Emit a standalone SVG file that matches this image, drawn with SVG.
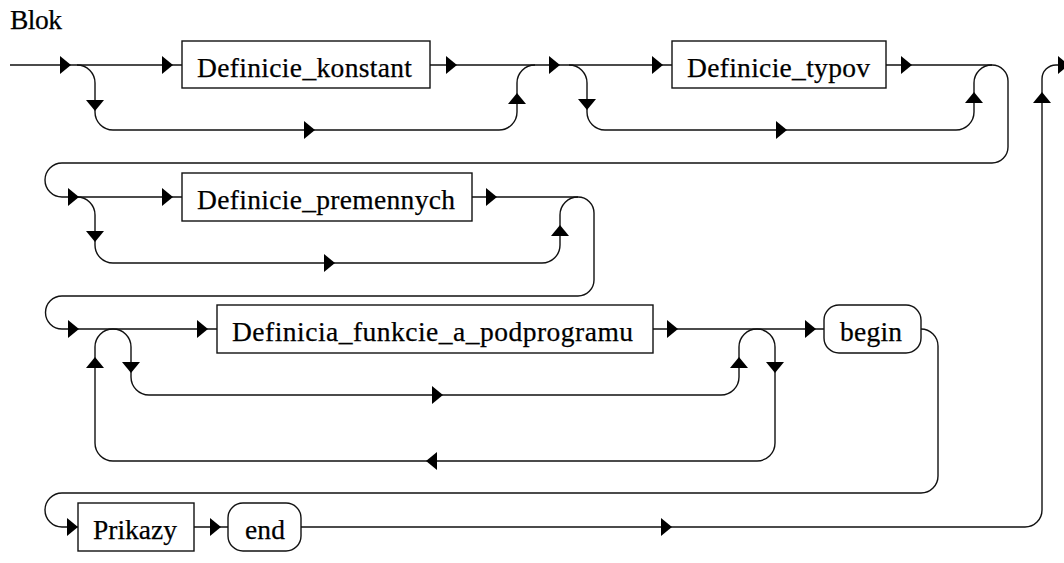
<svg xmlns="http://www.w3.org/2000/svg" xmlns:xlink="http://www.w3.org/1999/xlink" width="1064" height="563" viewBox="0 0 1064 563">
<style>
.ln{fill:none;stroke:#111;stroke-width:1.4}
.bx{fill:#fff;stroke:#111;stroke-width:1.4}
text{font-family:'Liberation Serif','Times New Roman','DejaVu Serif',serif;font-size:27.5px;fill:#000;stroke:#000;stroke-width:0.25}
.ar{fill:#000}
</style>
<defs>
<path id="a" class="ar" d="M0,0 L-11,-9 L-11,9 Z"/>
</defs>
<rect width="1064" height="563" fill="#fff"/>
<text x="10" y="29" textLength="52" lengthAdjust="spacing">Blok</text>
<g id="connectors">
<path class="ln" d="M10,65 H182 M430,65 H672 M886,65 H992"/>
<path class="ln" d="M77,65 A18,18 0 0 1 95,83 V112 A18,18 0 0 0 113,130 H499 A18,18 0 0 0 517,112 V83 A18,18 0 0 1 535,65"/>
<path class="ln" d="M569,65 A18,18 0 0 1 587,83 V112 A18,18 0 0 0 605,130 H956 A18,18 0 0 0 974,112 V83 A18,18 0 0 1 992,65"/>
<path class="ln" d="M992,65 A16,16 0 0 1 1008,81 V147 A16,16 0 0 1 992,163 H62 A17,17 0 0 0 62,197"/>
<path class="ln" d="M62,197 H182 M472,197 H578"/>
<path class="ln" d="M77,197 A18,18 0 0 1 95,215 V245 A18,18 0 0 0 113,263 H542 A18,18 0 0 0 560,245 V215 A18,18 0 0 1 578,197"/>
<path class="ln" d="M578,197 A16,16 0 0 1 594,213 V280 A16,16 0 0 1 578,296 H62 A16.5,16.5 0 0 0 62,329"/>
<path class="ln" d="M62,329 H217 M653,329 H824"/>
<path class="ln" d="M113,329 A18,18 0 0 1 131,347 V377 A18,18 0 0 0 149,395 H721 A18,18 0 0 0 739,377 V347 A18,18 0 0 1 757,329"/>
<path class="ln" d="M757,329 A18,18 0 0 1 775,347 V443 A18,18 0 0 1 757,461 H113 A18,18 0 0 1 95,443 V347 A18,18 0 0 1 113,329"/>
<path class="ln" d="M921,329 A17,17 0 0 1 938,346 V476 A17,17 0 0 1 921,493 H62 A17,17 0 0 0 62,527"/>
<path class="ln" d="M62,527 H78 M194,527 H228 M301,527 H1025 A17,17 0 0 0 1042,510 V79 A14,14 0 0 1 1056,65 H1070"/>
<use href="#a" transform="translate(71,65)"/>
<use href="#a" transform="translate(173,65)"/>
<use href="#a" transform="translate(457,65)"/>
<use href="#a" transform="translate(560,65)"/>
<use href="#a" transform="translate(663,65)"/>
<use href="#a" transform="translate(912,65)"/>
<use href="#a" transform="translate(1069,65)"/>
<use href="#a" transform="translate(315,130)"/>
<use href="#a" transform="translate(787,130)"/>
<use href="#a" transform="translate(95,111) rotate(90)"/>
<use href="#a" transform="translate(587,110) rotate(90)"/>
<use href="#a" transform="translate(517,93) rotate(-90)"/>
<use href="#a" transform="translate(974,92) rotate(-90)"/>
<use href="#a" transform="translate(1042,92) rotate(-90)"/>
<use href="#a" transform="translate(79,197)"/>
<use href="#a" transform="translate(173,197)"/>
<use href="#a" transform="translate(497,197)"/>
<use href="#a" transform="translate(335,263)"/>
<use href="#a" transform="translate(95,242) rotate(90)"/>
<use href="#a" transform="translate(560,225) rotate(-90)"/>
<use href="#a" transform="translate(79,329)"/>
<use href="#a" transform="translate(208,329)"/>
<use href="#a" transform="translate(678,329)"/>
<use href="#a" transform="translate(816,329)"/>
<use href="#a" transform="translate(95,357) rotate(-90)"/>
<use href="#a" transform="translate(131,373) rotate(90)"/>
<use href="#a" transform="translate(443,395)"/>
<use href="#a" transform="translate(426,461) rotate(180)"/>
<use href="#a" transform="translate(739,357) rotate(-90)"/>
<use href="#a" transform="translate(775,373) rotate(90)"/>
<use href="#a" transform="translate(78,527)"/>
<use href="#a" transform="translate(221,527)"/>
<use href="#a" transform="translate(672,527)"/>
</g>
<g id="n_konstant">
<rect class="bx" x="182" y="41" width="248" height="47"/>
<text x="197" y="77" textLength="215" lengthAdjust="spacing">Definicie_konstant</text>
</g>
<g id="n_typov">
<rect class="bx" x="672" y="41" width="214" height="47"/>
<text x="687" y="77" textLength="183" lengthAdjust="spacing">Definicie_typov</text>
</g>
<g id="n_premennych">
<rect class="bx" x="182" y="173" width="290" height="48"/>
<text x="197" y="209" textLength="258" lengthAdjust="spacing">Definicie_premennych</text>
</g>
<g id="n_funkcie">
<rect class="bx" x="217" y="305" width="436" height="48"/>
<text x="232" y="341" textLength="401" lengthAdjust="spacing">Definicia_funkcie_a_podprogramu</text>
</g>
<g id="n_begin">
<rect class="bx" x="824" y="305" width="97" height="48" rx="15"/>
<text x="840" y="341" textLength="62" lengthAdjust="spacing">begin</text>
</g>
<g id="n_prikazy">
<rect class="bx" x="78" y="503" width="116" height="48"/>
<text x="93" y="539" textLength="84" lengthAdjust="spacing">Prikazy</text>
</g>
<g id="n_end">
<rect class="bx" x="228" y="503" width="73" height="48" rx="15"/>
<text x="245" y="539" textLength="40" lengthAdjust="spacing">end</text>
</g>
</svg>
